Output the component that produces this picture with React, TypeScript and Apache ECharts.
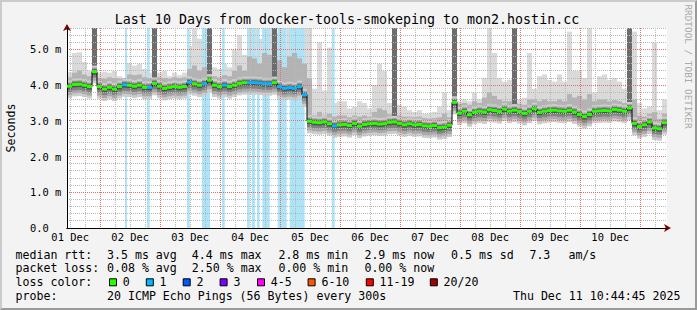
import React, { useEffect, useRef } from 'react';
import * as echarts from 'echarts';

const W = 697;
const H = 310;
const FONT = "'DejaVu Sans Mono', monospace";

// ---- time frame: hours counted from 01 Dec 00:00 ----
const startHour = 10.7458; // 01 Dec 10:44:45
const spanHours = 240;
const endHour = startHour + spanHours;
const binHours = 2;

// ---- tick labels / grid steps ----
const dayLabels = ['01 Dec', '02 Dec', '03 Dec', '04 Dec', '05 Dec', '06 Dec', '07 Dec', '08 Dec', '09 Dec', '10 Dec'];
const yLabels = ['0.0', '1.0 m', '2.0 m', '3.0 m', '4.0 m', '5.0 m'];
const xMinorStep = 6; // hours
const xMajorStep = 24; // hours
const yMinorStep = 0.2; // ms
const yMajorStep = 1; // ms

// ---- per-bin data (2 h bins), ms ----
const median = [
  3.97, 4.02, 4.03, 4.0, 3.96, 4.38, 3.96, 3.89, 3.94, 3.89,
  3.96, 4.01, 4.0, 3.97, 4.0, 3.94, 3.94, 4.05, 3.97, 3.91,
  3.94, 3.96, 3.94, 3.96, 4.08, 4.04, 4.0, 4.04, 4.14, 4.0,
  3.96, 4.0, 3.96, 4.0, 4.05, 4.07, 4.07, 4.07, 4.06, 4.04,
  4.04, 4.07, 3.96, 3.91, 3.93, 3.91, 3.96, 3.73, 2.99, 2.96,
  2.95, 2.97, 2.92, 2.86, 2.89, 2.9, 2.87, 2.93, 2.85, 2.9,
  2.92, 2.93, 2.91, 2.92, 2.96, 2.97, 2.93, 2.89, 2.92, 2.89,
  2.9, 2.86, 2.85, 2.87, 2.81, 2.83, 2.88, 3.52, 3.22, 3.27,
  3.17, 3.24, 3.27, 3.25, 3.31, 3.29, 3.26, 3.33, 3.27, 3.3,
  3.26, 3.21, 3.27, 3.34, 3.24, 3.27, 3.29, 3.3, 3.28, 3.27,
  3.3, 3.25, 3.18, 3.12, 3.18, 3.27, 3.28, 3.29, 3.28, 3.32,
  3.3, 3.27, 3.36, 2.93, 2.84, 2.89, 2.97, 2.8, 2.78, 2.95,
];
const smokeUp = [
  4.22, 4.35, 4.4, 4.3, 4.25, 4.6, 4.2, 4.18, 4.22, 4.2,
  4.18, 4.2, 4.3, 4.28, 4.3, 4.22, 4.2, 4.6, 4.22, 4.2,
  4.18, 4.22, 4.2, 4.22, 4.45, 4.55, 4.4, 4.5, 4.7, 4.25,
  4.22, 4.28, 4.25, 4.4, 4.55, 4.4, 4.8, 4.75, 4.6, 4.9,
  4.85, 5.0, 4.7, 4.5, 4.8, 4.9, 4.75, 4.6, 4.2, 3.15,
  3.25, 3.15, 3.2, 3.12, 3.15, 3.15, 3.1, 3.15, 3.12, 3.15,
  3.12, 3.25, 3.35, 3.3, 3.18, 3.6, 3.15, 3.12, 3.12, 3.1,
  3.12, 3.08, 3.06, 3.08, 3.1, 3.2, 3.1, 4.0, 3.48, 3.5,
  3.45, 3.55, 3.5, 3.65, 3.8, 3.7, 3.6, 3.55, 3.55, 3.9,
  3.48, 3.45, 3.6, 3.6, 3.55, 3.6, 3.55, 3.55, 3.6, 3.55,
  3.75, 3.65, 3.7, 3.6, 3.75, 3.55, 3.6, 3.6, 3.55, 3.58,
  3.55, 3.5, 3.9, 3.6, 3.15, 3.12, 3.2, 3.25, 3.05, 3.2,
];
const smokeMax = [
  4.36, 4.9, 4.92, 4.65, 4.4, 5.6, 4.35, 4.38, 4.35, 4.4,
  4.25, 4.2, 4.62, 4.55, 4.6, 4.45, 4.35, 5.6, 4.35, 4.4,
  4.25, 4.35, 4.28, 4.35, 5.1, 5.6, 5.3, 5.6, 5.6, 4.5,
  4.45, 4.6, 4.5, 5.0, 5.4, 4.85, 5.6, 5.6, 5.3, 5.6,
  5.6, 5.6, 5.45, 5.0, 5.6, 5.6, 5.6, 5.6, 5.6, 3.9,
  5.2, 3.85, 5.05, 3.5, 3.55, 3.55, 3.35, 3.4, 3.55, 3.5,
  3.35, 4.0, 4.6, 4.4, 3.5, 5.6, 3.45, 3.4, 3.3, 3.25,
  3.3, 3.2, 3.2, 3.25, 3.4, 3.8, 3.3, 5.6, 3.55, 3.6,
  3.55, 3.8, 3.6, 4.2, 5.6, 4.9, 4.2, 4.1, 4.15, 5.6,
  3.6, 3.65, 4.9, 3.9, 4.25, 4.3, 4.15, 4.1, 4.3, 4.1,
  5.5, 4.4, 4.4, 4.2, 5.6, 3.8, 4.25, 4.3, 4.15, 4.2,
  4.1, 3.9, 5.6, 5.5, 3.5, 3.35, 3.4, 5.2, 3.3, 3.6,
];
const spikeBins = [5, 17, 28, 41, 65, 77, 89, 112];
const lossBins = [11, 16, 24, 27, 31, 36, 37, 38, 39, 40, 42, 43, 44, 45, 46, 47, 53];

// ---- packet loss periods (hours from 01 Dec 00:00) ----
const lossStart = [33.95, 42.75, 58.75, 64.75, 72.75, 82.75, 84.63, 86.75, 88.87, 95.03, 99.83, 116.63];
const lossEnd = [34.75, 43.83, 59.83, 67.95, 73.83, 83.83, 85.95, 87.83, 91.83, 98.63, 105.83, 117.83];

// ---- legend ----
const lossLabels = ['0', '1', '2', '3', '4-5', '6-10', '11-19', '20/20'];
const lossColors = ['#26ff00', '#00b8ff', '#0059ff', '#7e00ff', '#ff00ff', '#ff5500', '#ff0000', '#a10000'];
const titleText = 'Last 10 Days from docker-tools-smokeping to mon2.hostin.cc';
const rttValues = ['3.5 ms avg', '4.4 ms max', '2.8 ms min', '2.9 ms now', '0.5 ms sd', '7.3', 'am/s'];
const pktValues = ['0.08 % avg', '2.50 % max', '0.00 % min', '0.00 % now'];
const probeText = '20 ICMP Echo Pings (56 Bytes) every 300s';
const dateText = 'Thu Dec 11 10:44:45 2025';

// ---- layout ----
const PLOT_L = 67;
const PLOT_T = 28;
const PLOT_W = 600;
const PLOT_H = 200;
const Y_MAX = 5.6;
const pxPerHour = PLOT_W / spanHours;

// dotted line drawn as short segments (no dash styles)
const DotLine = echarts.graphic.extendShape({
  shape: { x1: 0, y1: 0, x2: 0, y2: 0 },
  buildPath(ctx: any, s: any) {
    const dx = s.x2 - s.x1;
    const dy = s.y2 - s.y1;
    const len = Math.sqrt(dx * dx + dy * dy);
    if (!len) return;
    const ux = dx / len;
    const uy = dy / len;
    for (let t = 0; t < len; t += 2) {
      const e = Math.min(t + 1, len);
      ctx.moveTo(s.x1 + ux * t, s.y1 + uy * t);
      ctx.lineTo(s.x1 + ux * e, s.y1 + uy * e);
    }
  },
});
echarts.graphic.registerShape('dotline', DotLine);

const gridFrom = (hour: number, extra: any = {}) => {
  const left = PLOT_L + (hour - startHour) * pxPerHour;
  return {
    left,
    top: PLOT_T,
    width: PLOT_L + PLOT_W - left,
    height: PLOT_H,
    containLabel: false,
    outerBoundsMode: 'none',
    ...extra,
  };
};

const MINOR_COLOR = '#b8b8b8';
const MAJOR_COLOR = '#e07070';
const CORE_LAYERS: [number, number, string][] = [
  [6, 12, '#cdcdcd'],
  [4, 9, '#a9a9a9'],
  [3, 6, '#828282'],
  [2, 3, '#525252'],
];
const SWATCH_X = [109, 145.8, 182.7, 219.6, 257, 307.6, 365.8, 429.8];
const RTT_X = [107, 191.8, 278.4, 364.4, 451, 529.4, 568.4];
const ROW_Y = [254.7, 268.2, 282.3, 296];

const txt = (text: string, x: number, y: number, extra: any = {}, el: any = {}) => ({
  type: 'text',
  x,
  y,
  silent: true,
  z: 10,
  ...el,
  style: {
    text,
    fill: '#000',
    fontFamily: FONT,
    fontSize: 11.6,
    align: 'left',
    verticalAlign: 'middle',
    ...extra,
  },
});

const OFF = { show: false };
const crisp = (v: number) => Math.round(v - 0.5) + 0.5;
const isMultiple = (v: number, step: number) => Math.abs(v / step - Math.round(v / step)) < 1e-6;

// grid line positions: [orientation (0 vertical, 1 horizontal), value]
function minorLines() {
  const out: number[][] = [];
  for (let h = Math.ceil(startHour / xMinorStep) * xMinorStep; h < endHour; h += xMinorStep) {
    if (!isMultiple(h, xMajorStep)) out.push([0, h]);
  }
  for (let k = 1; k * yMinorStep <= Y_MAX + 1e-9; k++) {
    const v = +(k * yMinorStep).toFixed(2);
    if (!isMultiple(v, yMajorStep)) out.push([1, v]);
  }
  return out;
}
function majorLines() {
  const out: number[][] = [];
  for (let h = Math.ceil(startHour / xMajorStep) * xMajorStep; h < endHour; h += xMajorStep) out.push([0, h]);
  for (let v = yMajorStep; v < Y_MAX; v += yMajorStep) out.push([1, v]);
  return out;
}

const gridLineSeries = (name: string, data: number[][], color: string, z: number) => ({
  name,
  type: 'custom',
  xAxisIndex: 0,
  yAxisIndex: 0,
  z,
  silent: true,
  clip: false,
  data,
  renderItem: (_p: any, api: any) => {
    const horizontal = api.value(0) === 1;
    const v = api.value(1);
    const style = { stroke: color, lineWidth: 1, fill: null };
    if (!horizontal) {
      const a = api.coord([v, 0]);
      const b = api.coord([v, Y_MAX]);
      const x = crisp(a[0]);
      return { type: 'dotline', shape: { x1: x, y1: Math.round(b[1]), x2: x, y2: Math.round(a[1]) }, style };
    }
    const a = api.coord([startHour, v]);
    const b = api.coord([endHour, v]);
    const y = crisp(a[1]);
    return { type: 'dotline', shape: { x1: Math.round(a[0]), y1: y, x2: Math.round(b[0]), y2: y }, style };
  },
});

function buildOption() {
  const bins = median.map((m, i) => [
    startHour + i * binHours,
    startHour + (i + 1) * binHours,
    m,
    smokeUp[i],
    smokeMax[i],
    spikeBins.includes(i) ? 1 : 0,
    lossBins.includes(i) ? 1 : 0,
  ]);
  const lossData = lossStart.map((s, i) => [s, lossEnd[i]]);
  const lineData = median.map((m, i) => [startHour + (i + 0.5) * binHours, m]);

  const graphic: any[] = [];
  graphic.push(txt(titleText, 347, 19.5, { fontSize: 13.3, align: 'center' }));
  graphic.push(txt('Seconds', 11, 128, { align: 'center' }, { rotation: Math.PI / 2 }));
  graphic.push(
    txt('RRDTOOL / TOBI OETIKER', 688, 66.5, { align: 'center', fontSize: 9.4, fill: '#a9a9a9' }, { rotation: -Math.PI / 2 })
  );
  graphic.push(txt('median rtt:', 15.5, ROW_Y[0]));
  rttValues.forEach((t, i) => graphic.push(txt(t, RTT_X[i], ROW_Y[0])));
  graphic.push(txt('packet loss:', 15.5, ROW_Y[1]));
  pktValues.forEach((t, i) => graphic.push(txt(t, RTT_X[i], ROW_Y[1])));
  graphic.push(txt('loss color:', 15.5, ROW_Y[2]));
  lossLabels.forEach((t, i) => {
    graphic.push({
      type: 'rect',
      silent: true,
      z: 10,
      shape: { x: SWATCH_X[i] + 0.5, y: ROW_Y[2] - 3.5, width: 7, height: 7 },
      style: { fill: lossColors[i], stroke: '#000', lineWidth: 1 },
    });
    graphic.push(txt(t, SWATCH_X[i] + 13.8, ROW_Y[2]));
  });
  graphic.push(txt('probe:', 15.5, ROW_Y[3]));
  graphic.push(txt(probeText, RTT_X[0], ROW_Y[3]));
  graphic.push(txt(dateText, 680.5, ROW_Y[3], { align: 'right' }));

  const arrowLine = {
    show: true,
    onZero: false,
    symbol: ['none', 'arrow'],
    symbolSize: [6, 7],
    symbolOffset: [0, 4],
    lineStyle: { color: '#7f0000', width: 1 },
  };

  return {
    animation: false,
    backgroundColor: '#f3f3f3',
    textStyle: { fontFamily: FONT },
    grid: [
      gridFrom(startHour, { show: true, backgroundColor: '#ffffff', borderWidth: 0 }), // 0 data
      gridFrom(12), // 1 day labels (noon ticks)
      gridFrom(startHour), // 2 arrows
    ],
    xAxis: [
      {
        gridIndex: 0,
        type: 'value',
        min: startHour,
        max: endHour,
        z: 6,
        axisLine: { show: true, onZero: false, lineStyle: { color: '#000', width: 1 } },
        axisTick: OFF,
        axisLabel: OFF,
        splitLine: OFF,
      },
      {
        gridIndex: 1,
        type: 'value',
        min: 12,
        max: endHour,
        interval: 24,
        z: 6,
        axisLine: OFF,
        axisTick: OFF,
        splitLine: OFF,
        axisLabel: {
          show: true,
          margin: 4,
          fontFamily: FONT,
          fontSize: 10.4,
          color: '#000',
          showMinLabel: true,
          showMaxLabel: false,
          formatter: (v: number) => dayLabels[Math.floor(Math.round(v) / 24)] ?? '',
        },
      },
      {
        gridIndex: 2,
        type: 'value',
        min: startHour,
        max: endHour,
        z: 5,
        axisLine: arrowLine,
        axisTick: OFF,
        axisLabel: OFF,
        splitLine: OFF,
      },
    ],
    yAxis: [
      {
        gridIndex: 0,
        type: 'value',
        min: 0,
        max: Y_MAX,
        interval: 1,
        z: 6,
        axisLine: { show: true, onZero: false, lineStyle: { color: '#000', width: 1 } },
        axisTick: OFF,
        splitLine: OFF,
        axisLabel: {
          show: true,
          margin: PLOT_L - 30,
          align: 'left',
          fontFamily: FONT,
          fontSize: 10.4,
          color: '#000',
          showMinLabel: true,
          showMaxLabel: false,
          formatter: (v: number) => yLabels[Math.round(v)] ?? '',
        },
      },
      { gridIndex: 1, type: 'value', min: 0, max: 1, show: false },
      {
        gridIndex: 2,
        type: 'value',
        min: 0,
        max: Y_MAX,
        z: 5,
        axisLine: arrowLine,
        axisTick: OFF,
        axisLabel: OFF,
        splitLine: OFF,
      },
    ],
    series: [
      {
        name: 'smoke-max',
        type: 'custom',
        xAxisIndex: 0,
        yAxisIndex: 0,
        z: 1,
        silent: true,
        clip: true,
        data: bins,
        renderItem: (_p: any, api: any) => {
          const a = api.coord([api.value(0), api.value(4)]);
          const b = api.coord([api.value(1), api.value(2)]);
          return {
            type: 'rect',
            shape: { x: a[0], y: a[1], width: b[0] - a[0], height: b[1] - a[1] },
            style: { fill: '#dadada' },
          };
        },
      },
      {
        name: 'loss',
        type: 'custom',
        xAxisIndex: 0,
        yAxisIndex: 0,
        z: 2,
        silent: true,
        clip: true,
        data: lossData,
        renderItem: (_p: any, api: any) => {
          const a = api.coord([api.value(0), Y_MAX]);
          const b = api.coord([api.value(1), 0]);
          return {
            type: 'rect',
            shape: { x: a[0], y: a[1], width: b[0] - a[0], height: b[1] - a[1] },
            style: { fill: '#aee4f8' },
          };
        },
      },
      {
        name: 'smoke-core',
        type: 'custom',
        xAxisIndex: 0,
        yAxisIndex: 0,
        z: 3,
        silent: true,
        clip: true,
        data: bins,
        renderItem: (_p: any, api: any) => {
          const x0 = api.coord([api.value(0), 0])[0];
          const x1 = api.coord([api.value(1), 0])[0];
          const w = x1 - x0;
          const ym = api.coord([api.value(0), api.value(2)])[1];
          const yu = api.coord([api.value(0), api.value(3)])[1];
          const yx = api.coord([api.value(0), api.value(4)])[1];
          const children: any[] = [
            { type: 'rect', shape: { x: x0, y: yu, width: w, height: ym - yu }, style: { fill: '#b3b3b3' } },
          ];
          if (api.value(5)) {
            children.push({ type: 'rect', shape: { x: x0, y: yx, width: w, height: ym - yx }, style: { fill: '#6c6c6c' } });
          }
          CORE_LAYERS.forEach(([above, below, color]) => {
            children.push({
              type: 'rect',
              shape: { x: x0, y: ym - above, width: w, height: above + below },
              style: { fill: color },
            });
          });
          return { type: 'group', children };
        },
      },
      gridLineSeries('minor-grid', minorLines(), MINOR_COLOR, 4),
      gridLineSeries('major-grid', majorLines(), MAJOR_COLOR, 5),
      {
        name: 'median-line',
        type: 'line',
        xAxisIndex: 0,
        yAxisIndex: 0,
        z: 7,
        silent: true,
        step: 'middle',
        symbol: 'none',
        showSymbol: false,
        data: lineData,
        lineStyle: { color: '#000', width: 1 },
      },
      {
        name: 'median',
        type: 'custom',
        xAxisIndex: 0,
        yAxisIndex: 0,
        z: 8,
        silent: true,
        clip: true,
        data: bins,
        renderItem: (_p: any, api: any) => {
          const a = api.coord([api.value(0), api.value(2)]);
          const b = api.coord([api.value(1), api.value(2)]);
          return {
            type: 'rect',
            shape: { x: a[0], y: a[1] - 1.5, width: b[0] - a[0], height: 3 },
            style: { fill: api.value(6) ? lossColors[1] : lossColors[0] },
          };
        },
      },
    ],
    graphic,
  };
}

export default function App() {
  const ref = useRef<HTMLDivElement>(null);
  useEffect(() => {
    document.body.style.margin = '0';
    if (!ref.current) return;
    const chart = echarts.init(ref.current, undefined, { renderer: 'svg', width: W, height: H });
    chart.setOption(buildOption() as any);
    return () => chart.dispose();
  }, []);
  return (
    <div style={{ position: 'relative', width: W, height: H }}>
      <div ref={ref} style={{ position: 'absolute', left: 0, top: 0, width: W, height: H }} />
      <div
        style={{
          position: 'absolute',
          left: 0,
          top: 0,
          width: W,
          height: H,
          boxSizing: 'border-box',
          borderStyle: 'solid',
          borderWidth: 2,
          borderColor: '#cbcbcb #9a9a9a #9a9a9a #cbcbcb',
          pointerEvents: 'none',
        }}
      />
    </div>
  );
}
